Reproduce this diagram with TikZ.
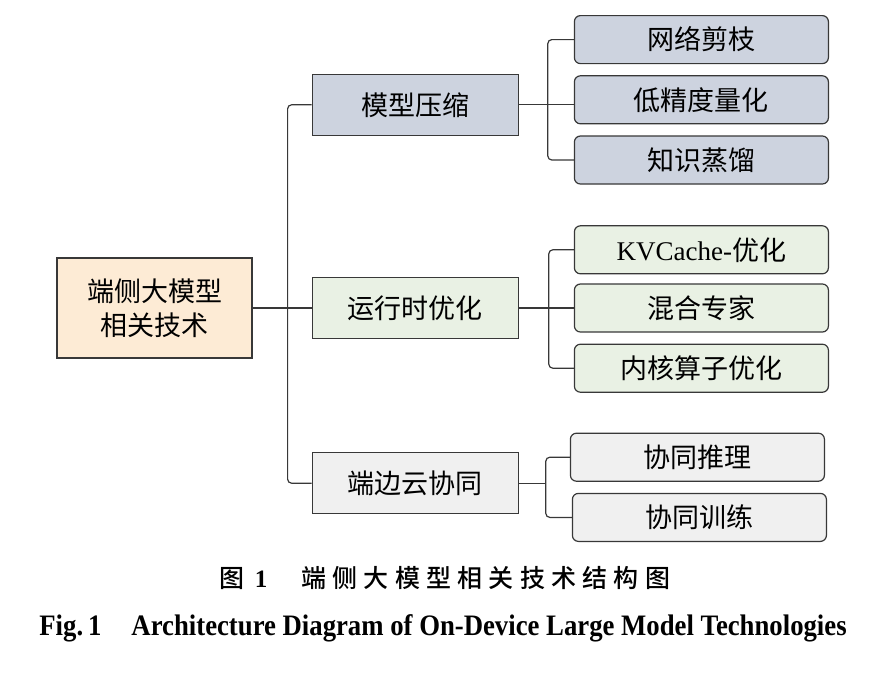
\documentclass[tikz,border=0pt]{standalone}
\usepackage{fontspec}
\setmainfont{Liberation Serif}
\newfontfamily\cjk{Noto Sans CJK SC}
\newfontfamily\cjkcap{Noto Sans CJK SC Medium}
\newfontfamily\capen[FakeStretch=0.9]{Liberation Serif}
\usetikzlibrary{positioning}
\definecolor{boxline}{HTML}{383838}
\definecolor{rootfill}{HTML}{FDEBD5}
\definecolor{bluefill}{HTML}{CDD3DF}
\definecolor{greenfill}{HTML}{E9F1E4}
\definecolor{grayfill}{HTML}{F0F0F0}
\tikzstyle{base} = [rectangle, draw=boxline, line width=1.2pt, text centered, inner sep=0pt, font=\cjk\fontsize{27}{34}\selectfont]
\tikzstyle{rootbox} = [base, minimum width=195pt, minimum height=100pt, align=center, fill=rootfill]
\tikzstyle{catbox} = [base, minimum width=206pt, minimum height=61pt]
\tikzstyle{leaf} = [base, rounded corners=6pt, minimum width=254pt, minimum height=48pt]
\tikzstyle{link} = [line width=1.2pt, draw=boxline, rounded corners=4pt]

\begin{document}
\begin{tikzpicture}[x=1pt, y=-1pt, node distance=11pt]
        \useasboundingbox (0,0) rectangle (893,678);

        \node[rootbox]                                   (root)    at (154.5,308) {端侧大模型\\相关技术};
        \node[catbox, fill=greenfill, right=59pt of root] (rt)      {运行时优化};
        \node[catbox, fill=bluefill, above=141pt of rt]   (mc)      {模型压缩};
        \node[catbox, fill=grayfill, below=113pt of rt]   (ec)      {端边云协同};

        \node[leaf, fill=bluefill, right=55pt of mc, yshift=5pt] (quant)   {低精度量化};
        \node[leaf, fill=bluefill, above=of quant]        (prune)   {网络剪枝};
        \node[leaf, fill=bluefill, below=of quant]        (distill) {知识蒸馏};

        \node[leaf, fill=greenfill, right=55pt of rt]     (moe)     {混合专家};
        \node[leaf, fill=greenfill, above=9pt of moe]     (kv)      {{\rmfamily KVCache-}优化};
        \node[leaf, fill=greenfill, below=of moe]         (kernel)  {内核算子优化};

        \node[leaf, fill=grayfill, right=51pt of ec, yshift=26pt] (infer)   {协同推理};
        \node[leaf, fill=grayfill, below=of infer, xshift=2pt]    (train)   {协同训练};

        \coordinate (trunk)  at ([xshift=-24pt]rt.west);
        \coordinate (mcfork) at ([xshift=-26pt]quant.west);
        \coordinate (rtfork) at ([xshift=-25pt]moe.west);
        \coordinate (ecfork) at ([xshift=27pt]ec.east);

        \draw[link] (root.east)  -- (root.east -| rt.west);
        \draw[link] (mc.west)    -| (trunk) |- (ec.west);

        \draw[link] (mc.east)    -- (mc.east -| quant.west);
        \draw[link] (prune.west) -| (mcfork) |- (distill.west);

        \draw[link] (rt.east)    -- (rt.east -| moe.west);
        \draw[link] (kv.west)    -| (rtfork) |- (kernel.west);

        \draw[link] (ec.east)    -- (ecfork);
        \draw[link] (infer.west) -| (ecfork) |- (train.west);

        \node[font=\cjkcap\fontsize{25}{25}\selectfont] (capzh) at (445,578)
            {图\hspace{10pt}{\rmfamily\bfseries 1}\hspace{34pt}{\addfontfeature{LetterSpace=25}端侧大模型相关技术结构图}};
        \node[font=\capen\bfseries\fontsize{29.7}{30}\selectfont]  (capeng) at (443,628)
            {Fig.\,1\hspace{30pt}Architecture Diagram of On-Device Large Model Technologies};
    \end{tikzpicture}
\end{document}
